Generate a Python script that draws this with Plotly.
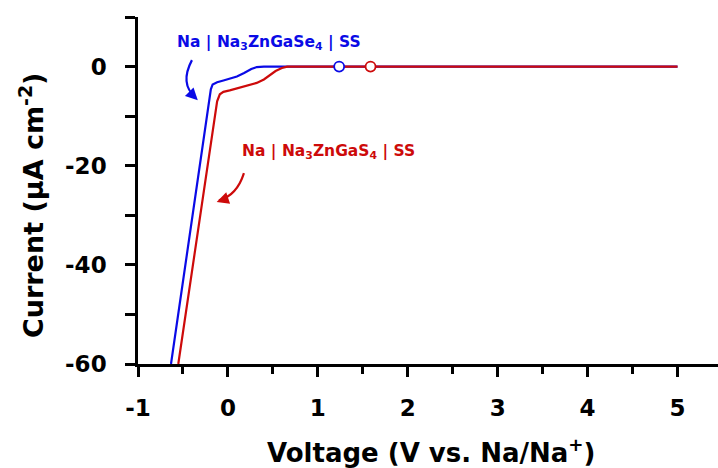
import plotly.graph_objects as go

# Linear sweep voltammetry, Na | electrolyte | stainless steel cells
se_voltage = [-0.633, -0.40, -0.22, -0.19, -0.17, -0.12, -0.05, 0.02, 0.10, 0.18,
              0.26, 0.32, 0.40, 1.0, 2.0, 3.0, 3.35, 3.45, 3.55, 3.7, 3.85, 4.0, 4.2, 5.0]
se_current = [-60.0, -31.0, -8.2, -4.6, -3.6, -3.15, -2.8, -2.45, -2.0, -1.3,
              -0.5, -0.1, 0.0, 0.0, 0.0, 0.0, 0.1, -0.05, 0.1, 0.0, 0.08, 0.0, 0.06, 0.0]

s_voltage = [-0.552, -0.15, -0.12, -0.09, -0.05, 0.02, 0.12, 0.22, 0.32, 0.40,
             0.47, 0.53, 0.60, 0.66, 1.0, 2.0, 3.0, 4.0, 5.0]
s_current = [-60.0, -10.2, -7.0, -5.6, -5.1, -4.8, -4.35, -3.9, -3.3, -2.6,
             -1.7, -0.9, -0.3, 0.0, 0.0, 0.0, 0.0, 0.0, 0.0]

# Onset points of oxidative decomposition
onset_voltage = [1.237, 1.586]
onset_current = [0.0, 0.0]

y_ticks = [-60, -40, -20, 0]
y_tick_text = ["-60", "-40", "-20", "0"]
x_ticks = [-1, 0, 1, 2, 3, 4, 5]
x_tick_text = ["-1", "0", "1", "2", "3", "4", "5"]

blue = "rgb(10,10,230)"
red = "rgb(205,10,10)"
font_family = "'DejaVu Sans', sans-serif"

fig = go.Figure()
fig.add_trace(go.Scatter(x=se_voltage, y=se_current, mode="lines",
                         line=dict(color=blue, width=2.2), showlegend=False))
fig.add_trace(go.Scatter(x=s_voltage, y=s_current, mode="lines",
                         line=dict(color=red, width=2.2), showlegend=False))
fig.add_trace(go.Scatter(x=onset_voltage, y=onset_current, mode="markers",
                         marker=dict(size=10, color="white",
                                     line=dict(color=[blue, red], width=1.8)),
                         showlegend=False))

# Curved pointers from the labels to their curves
fig.add_shape(type="path", xref="x", yref="y",
              path="M -0.40 1.3 Q -0.54 -3.5 -0.36 -6.2",
              line=dict(color=blue, width=2.2))
fig.add_shape(type="path", xref="x", yref="y",
              path="M 0.178 -21.5 Q 0.10 -26.0 -0.10 -27.0",
              line=dict(color=red, width=2.2))
fig.add_annotation(x=-0.335, y=-6.8, ax=-7, ay=-7, xref="x", yref="y",
                   showarrow=True, arrowhead=2, arrowsize=1.1, arrowwidth=2.2,
                   arrowcolor=blue, text="", standoff=0)
fig.add_annotation(x=-0.125, y=-27.3, ax=9, ay=-3, xref="x", yref="y",
                   showarrow=True, arrowhead=2, arrowsize=1.1, arrowwidth=2.2,
                   arrowcolor=red, text="", standoff=0)

fig.add_annotation(x=0.46, y=4.8, xref="x", yref="y", showarrow=False,
                   text="<b>Na | Na<sub>3</sub>ZnGaSe<sub>4</sub> | SS</b>",
                   font=dict(family=font_family, size=15.5, color=blue))
fig.add_annotation(x=1.12, y=-17.3, xref="x", yref="y", showarrow=False,
                   text="<b>Na | Na<sub>3</sub>ZnGaS<sub>4</sub> | SS</b>",
                   font=dict(family=font_family, size=15.5, color=red))

# Axis titles
fig.add_annotation(x=0.505, y=-0.252, xref="paper", yref="paper", showarrow=False,
                   xanchor="center", yanchor="middle",
                   text="<b>Voltage (V vs. Na/Na<sup>+</sup>)</b>",
                   font=dict(family=font_family, size=26, color="black"))
fig.add_annotation(x=-0.1845, y=0.458, xref="paper", yref="paper", showarrow=False,
                   xanchor="center", yanchor="middle", textangle=-90,
                   text="<b>Current (μA cm<sup>-2</sup>)</b>",
                   font=dict(family=font_family, size=27, color="black"))

axis_common = dict(showgrid=False, zeroline=False, showline=True, linecolor="black",
                   linewidth=2.5, ticks="outside", tickcolor="black", tickwidth=2.5,
                   tickfont=dict(family=font_family, size=23, color="black", weight="bold"))

fig.update_xaxes(range=[-1, 5.45], tickmode="array", tickvals=x_ticks,
                 ticktext=x_tick_text, ticklen=10,
                 minor=dict(dtick=0.5, tick0=0, ticklen=7, tickwidth=2.5,
                            tickcolor="black", ticks="outside"),
                 ticklabelstandoff=12, **axis_common)
fig.update_yaxes(range=[-60, 10], tickmode="array", tickvals=y_ticks,
                 ticktext=y_tick_text, ticklen=10,
                 minor=dict(dtick=10, tick0=0, ticklen=10, tickwidth=2.5,
                            tickcolor="black", ticks="outside"),
                 ticklabelstandoff=14, **axis_common)

fig.update_layout(width=718, height=468, margin=dict(l=138, r=0, t=17, b=104),
                  paper_bgcolor="white", plot_bgcolor="white")

fig.write_html("out.html")
